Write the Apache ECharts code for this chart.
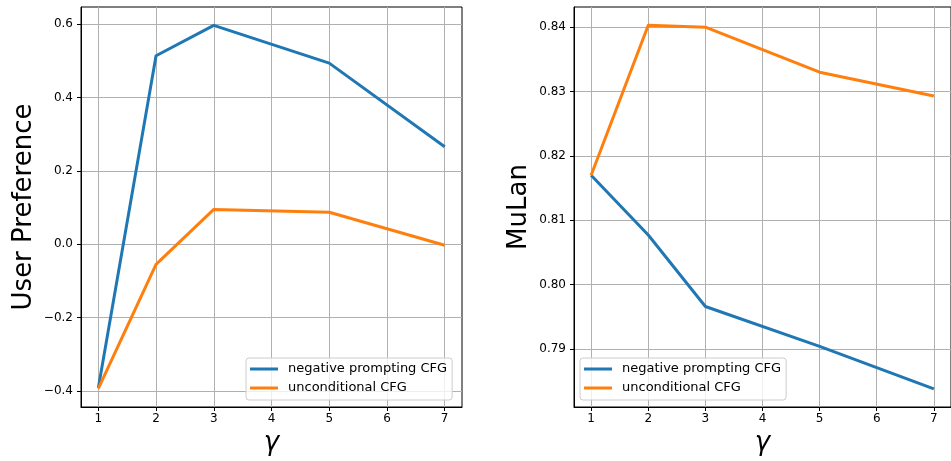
<!DOCTYPE html>
<html>
<head>
<meta charset="utf-8">
<script src="https://cdn.jsdelivr.net/npm/echarts@6/dist/echarts.min.js"></script>
<style>
html,body{margin:0;padding:0;background:#fff;}
#chart{width:951px;height:461px;}
</style>
</head>
<body>
<div id="chart"></div>
<script>
// ---- data ----
var gammaValues = [1, 2, 3, 5, 7];
var negUserPref = [-0.392, 0.514, 0.597, 0.494, 0.266];
var uncondUserPref = [-0.394, -0.055, 0.095, 0.087, -0.003];
var negMulan = [0.8170, 0.8077, 0.7966, 0.7904, 0.7838];
var uncondMulan = [0.8170, 0.8403, 0.8400, 0.8330, 0.8293];
var xTicks = [1, 2, 3, 4, 5, 6, 7];
var yTicksLeft = [-0.4, -0.2, 0.0, 0.2, 0.4, 0.6];
var yTicksRight = [0.79, 0.80, 0.81, 0.82, 0.83, 0.84];
var seriesNames = ['negative prompting CFG', 'unconditional CFG'];
var xLabel = 'γ';
var yLabelLeft = 'User Preference';
var yLabelRight = 'MuLan';

function pairs(xs, ys) { return xs.map(function (x, i) { return [x, ys[i]]; }); }

var FONT = 'DejaVu Sans';
var BLUE = '#1f77b4', ORANGE = '#ff7f0e';

function xAxisCfg(gridIndex) {
  return {
    type: 'value', gridIndex: gridIndex, min: 0.7, max: 7.3, splitNumber: 6,
    name: xLabel, nameLocation: 'middle', nameGap: 17,
    nameTextStyle: { fontFamily: FONT, fontStyle: 'italic', fontSize: 26, color: '#000' },
    axisLine: { show: true, onZero: false, lineStyle: { color: '#000', width: 1 } },
    axisTick: { show: true, length: 4, customValues: xTicks, lineStyle: { color: '#000', width: 1 } },
    axisLabel: { customValues: xTicks, fontFamily: FONT, fontSize: 12, color: '#000', margin: 6 },
    splitLine: { show: true, lineStyle: { color: '#b0b0b0', width: 1 } }
  };
}

function yAxisCfg(gridIndex, min, max, ticks, digits, name, gap) {
  return {
    type: 'value', gridIndex: gridIndex, min: min, max: max, splitNumber: 5,
    name: name, nameLocation: 'middle', nameGap: gap,
    nameTextStyle: { fontFamily: FONT, fontSize: 26, color: '#000' },
    axisLine: { show: true, onZero: false, lineStyle: { color: '#000', width: 1 } },
    axisTick: { show: true, length: 4, customValues: ticks, lineStyle: { color: '#000', width: 1 } },
    axisLabel: {
      customValues: ticks,
      fontFamily: FONT, fontSize: 12, color: '#000', margin: 8,
      formatter: function (v) { return Number(v).toFixed(digits).replace('-', '\u2212'); }
    },
    splitLine: { show: true, lineStyle: { color: '#b0b0b0', width: 1 } }
  };
}

function legendCfg(left) {
  return {
    orient: 'vertical', left: left, top: 358,
    data: seriesNames,
    icon: 'rect', itemWidth: 28, itemHeight: 3, itemGap: 3,
    padding: [3, 5, 4, 4],
    backgroundColor: 'rgba(255,255,255,0.8)', borderColor: '#cccccc', borderWidth: 1, borderRadius: 3,
    textStyle: { fontFamily: FONT, fontSize: 13, color: '#000', lineHeight: 16, padding: [0, 0, 0, 5] },
    selectedMode: false
  };
}

function lineSeries(name, xi, yi, data, color) {
  return {
    name: name, type: 'line', xAxisIndex: xi, yAxisIndex: yi,
    data: data, showSymbol: false, symbol: 'none', animation: false,
    lineStyle: { color: color, width: 3, join: 'round' }, itemStyle: { color: color }
  };
}

var chart = echarts.init(document.getElementById('chart'), null, { renderer: 'canvas' });
chart.setOption({
  animation: false,
  backgroundColor: '#fff',
  grid: [
    { left: 81, top: 7, right: 489, bottom: 54, show: true, borderColor: '#000', borderWidth: 1, backgroundColor: 'transparent' },
    { left: 574, top: 7, right: -6, bottom: 54, show: true, borderColor: '#000', borderWidth: 1, backgroundColor: 'transparent' }
  ],
  xAxis: [xAxisCfg(0), xAxisCfg(1)],
  yAxis: [
    yAxisCfg(0, -0.444, 0.647, yTicksLeft, 1, yLabelLeft, 44),
    yAxisCfg(1, 0.78098, 0.84313, yTicksRight, 2, yLabelRight, 42)
  ],
  legend: [legendCfg(246), legendCfg(580)],
  series: [
    lineSeries(seriesNames[0], 0, 0, pairs(gammaValues, negUserPref), BLUE),
    lineSeries(seriesNames[1], 0, 0, pairs(gammaValues, uncondUserPref), ORANGE),
    lineSeries(seriesNames[0], 1, 1, pairs(gammaValues, negMulan), BLUE),
    lineSeries(seriesNames[1], 1, 1, pairs(gammaValues, uncondMulan), ORANGE)
  ]
});
</script>
</body>
</html>
